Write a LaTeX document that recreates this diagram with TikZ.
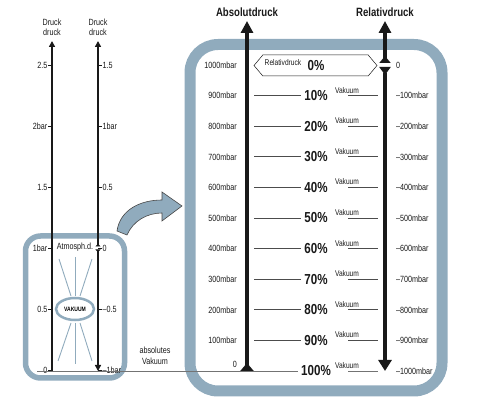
\documentclass[tikz,border=0pt]{standalone}
\usepackage{fontspec}
\setmainfont{Liberation Sans}[FakeStretch=0.8]
\usepackage{tikz}
\usetikzlibrary{positioning}
\usetikzlibrary{arrows.meta}
\usetikzlibrary{shapes.geometric}
\usetikzlibrary{shapes.symbols}
\definecolor{Steel}{RGB}{144,171,189}
\definecolor{Ink}{RGB}{25,25,25}

\begin{document}
\begin{tikzpicture}[x=1pt, y=-1pt]
    \tikzset{ lbl/.style={text=Ink, font=\fontsize{9}{10}\selectfont, inner sep=0pt} }
    \tikzset{ sml/.style={text=Ink, font=\fontsize{8.3}{10}\selectfont, inner sep=0pt} }
    \tikzset{ hdr/.style={text=Ink, font=\bfseries\fontsize{12}{13}\selectfont, inner sep=0pt} }
    \tikzset{ pct/.style={text=Ink, font=\bfseries\fontsize{14.5}{15}\selectfont, inner xsep=3pt, inner ysep=0pt} }
    \tikzset{ row/.style={draw=black!70, line width=0.7pt} }
    \tikzset{ frm/.style={draw=Steel, rounded corners=2pt} }
    \tikzset{ axs/.style={draw=Ink, line width=4.5pt} }
    \tikzset{ sax/.style={draw=Ink, line width=2.8pt} }

    \useasboundingbox (0,0) rectangle (480,403);

    % frames
    \draw[frm, line width=5.5pt, rounded corners=15pt] (25.5,236) rectangle (124.5,378);
    \draw[frm, line width=11pt, rounded corners=28pt] (190,44.5) rectangle (442,391);
    \draw[draw=Ink!80, line width=0.6pt, fill=Steel] (117,231) .. controls (120,210) and (140,200) .. (162,200) -- (162,192) -- (182,206) -- (162,221) -- (162,213) .. controls (147,213) and (133,221) .. (127,235) -- cycle;

    % small chart
    \foreach \xa/\ya/\xb/\yb in {59/259/71/296, 75/257/75/296, 92/259/80/296, 71/323/58/361, 75/323/75/364, 80/323/92/361}
        \draw[Steel, line width=0.9pt] (\xa,\ya) -- (\xb,\yb);
    \node[ellipse, draw=Steel, fill=white, line width=2.5pt, minimum width=38pt, minimum height=22pt, inner sep=0pt, font=\bfseries\fontsize{6.3}{7}\selectfont] (vakuum) at (75,309) {VAKUUM};

    \draw[sax, -{Triangle[width=6pt,length=6pt]}] (52,371) -- (52,41);
    \draw[sax, {Triangle[reversed,width=5pt,length=2.5pt]}-{Triangle[width=6pt,length=6pt]}] (98,246.5) -- (98,41);
    \draw[sax, {Triangle[reversed,width=5pt,length=2.5pt]}-{Triangle[width=6pt,length=6pt]}] (98,249.5) -- (98,371);

    \foreach \i/\l/\r in {0/2.5/1.5, 1/2bar/1bar, 2/1.5/0.5, 3/1bar/0, 4/0.5/--0.5, 5/0/--1bar} {
        \pgfmathsetmacro\yy{65+61*\i}
        \draw[Ink, line width=0.6pt] (48,\yy) -- (52,\yy);
        \draw[Ink, line width=0.6pt] (98,\yy) -- (102,\yy);
        \node[lbl, anchor=east] (la\i) at (47.5,\yy) {\l};
        \node[lbl, anchor=west] (lb\i) at (102.5,\yy) {\r};
    }
    \node[lbl, align=center] (druck1) at (52,27) {Druck\\druck};
    \node[lbl, align=center] (druck2) at (98,27) {Druck\\druck};
    \node[lbl] (atmos) at (75,247) {Atmosph.d.};
    \node[lbl, align=center, font=\fontsize{9}{11}\selectfont] (absvak) at (155,356) {absolutes\\Vakuum};

    % large chart
    \node[hdr] (abshead) at (247,12) {Absolutdruck};
    \node[hdr] (relhead) at (385,12) {Relativdruck};

    \node[signal, signal to=west and east, signal pointer angle=100, draw=Ink, line width=0.5pt, minimum width=123pt, minimum height=21pt, inner sep=0pt] (hex) at (315.5,65.5) {};
    \node[sml] (rd0) at (283,62.5) {Relativdruck};
    \node[pct] (pct0) at (316,66) {0\%};
    \node[lbl, anchor=east] (abs0) at (237,65) {1000mbar};
    \node[lbl, anchor=west] (rel0) at (396,65) {0};

    \foreach \k in {1,...,9} {
        \pgfmathsetmacro\yy{65+30.6*\k}
        \pgfmathtruncatemacro\ab{1000-100*\k}
        \pgfmathtruncatemacro\rl{100*\k}
        \pgfmathtruncatemacro\pc{10*\k}
        \node[lbl, anchor=east] (abs\k) at (237,\yy) {\ab mbar};
        \node[lbl, anchor=west] (rel\k) at (396,\yy) {--\rl mbar};
        \node[pct] (pct\k) at (316,\yy) {\pc\%};
        \node[sml] (vk\k) at (347,\yy-5.5) {Vakuum};
        \draw[row] (254,\yy) -- (pct\k.west);
        \draw[row] (348,\yy) -- (378,\yy);
    }

    \node[pct] (pct10) at (316,371) {100\%};
    \node[sml] (vk10) at (347,365.5) {Vakuum};
    \node[lbl, anchor=east] (abs10) at (237,364) {0};
    \node[lbl, anchor=west] (rel10) at (396,371) {--1000mbar};
    \draw[row, draw=black!55] (348,371) -- (378,371);

    \draw[axs, {Triangle[reversed,width=13pt,length=8pt]}-{Triangle[width=12pt,length=12pt]}] (247,371) -- (247,21);
    \draw[axs, {Triangle[reversed,width=11pt,length=7pt]}-{Triangle[width=12pt,length=12pt]}] (385,63) -- (385,21);
    \draw[axs, {Triangle[reversed,width=11pt,length=8pt]}-{Triangle[width=13pt,length=11pt]}] (385,67) -- (385,371);

    \draw[draw=black!55, line width=0.8pt] (37,371) -- (pct10.west);
\end{tikzpicture}
\end{document}
